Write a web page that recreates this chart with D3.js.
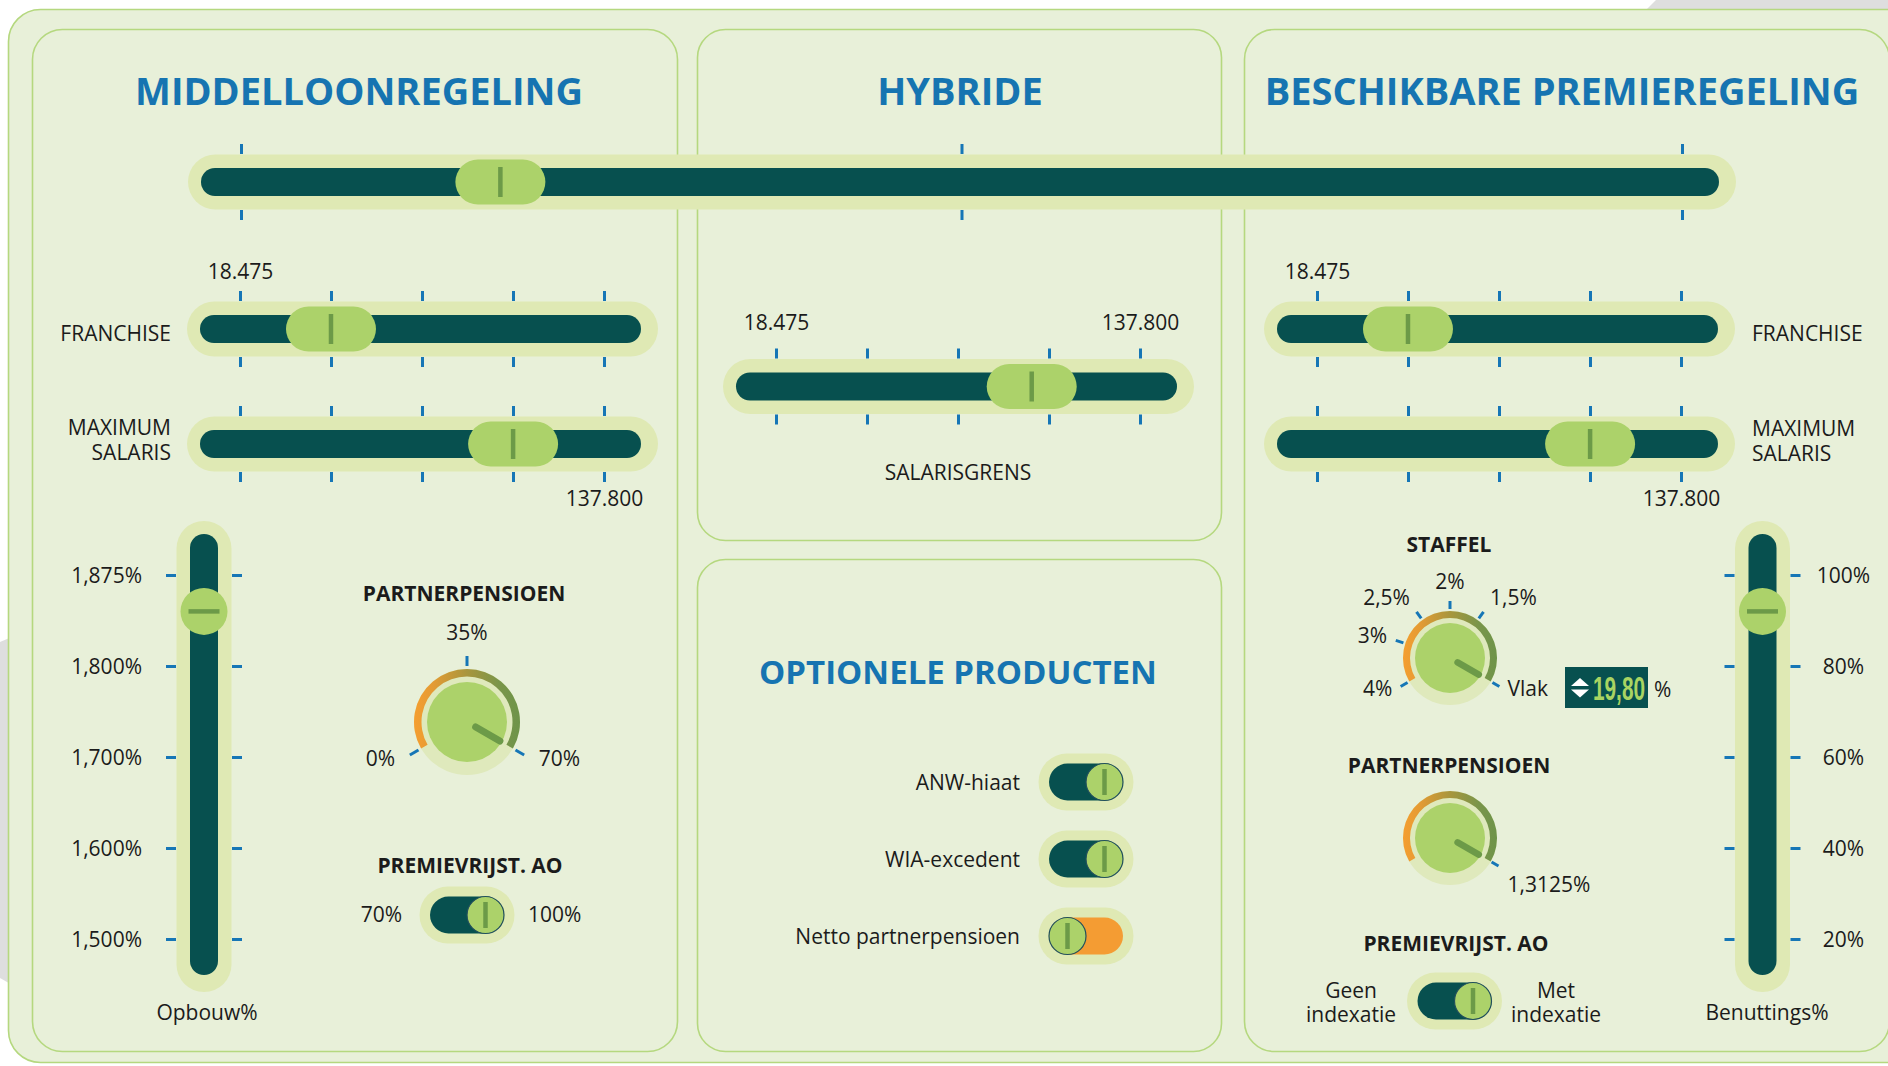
<!DOCTYPE html>
<html><head><meta charset="utf-8">
<script src="https://cdn.jsdelivr.net/npm/d3@7"></script>
<style>html,body{margin:0;padding:0;background:#fff;overflow:hidden}svg{display:block}text{font-family:"Open Sans",sans-serif}</style>
</head><body><svg id="chart"></svg>
<script>
// ---------- DATA ----------
const schemes = ["MIDDELLOONREGELING", "HYBRIDE", "BESCHIKBARE PREMIEREGELING"];
const schemeValue = 0.36;
const salaryTicks = [18475, 48306, 78138, 107969, 137800];
const salaryTickLabels = ["18.475", "", "", "", "137.800"];
const franchiseML = 48300, maxSalarisML = 108000;
const salarisgrensHybride = 102300;
const franchiseBP = 48300, maxSalarisBP = 108000;
const opbouwTicks = [1.875, 1.8, 1.7, 1.6, 1.5];
const opbouwLabels = ["1,875%", "1,800%", "1,700%", "1,600%", "1,500%"];
const opbouwValue = 1.845;
const benuttingTicks = [100, 80, 60, 40, 20];
const benuttingLabels = ["100%", "80%", "60%", "40%", "20%"];
const benuttingValue = 92;
const partnerMLTicks = [0, 35, 70];
const partnerMLLabels = ["0%", "35%", "70%"];
const partnerMLValue = 70;
const staffelCats = ["4%", "3%", "2,5%", "2%", "1,5%", "Vlak"];
const staffelValue = "Vlak";
const staffelPct = "19,80";
const partnerBPTicks = [1.3125];
const partnerBPLabels = ["1,3125%"];
const partnerBPValue = 1.3125;
const premieMLOptions = ["70%", "100%"];
const premieMLValue = "100%";
const optionalProducts = ["ANW-hiaat", "WIA-excedent", "Netto partnerpensioen"];
const optionalOn = [true, true, false];
const premieBPOptions = [["Geen", "indexatie"], ["Met", "indexatie"]];
const premieBPOn = true;

// ---------- STYLE ----------
const C = {teal:"#07504f", halo:"#dfe9b4", halo2:"#dfe9bc", knob:"#acd26a", mark:"#6c9a48",
  tick:"#1676b6", title:"#1674b1", text:"#1b1b1b", panel:"#e8f0d9", stroke:"#b5d87f", orange:"#f49c33", knobStroke:"#22505c"};
const W = 1888, H = 1066;
const svg = d3.select("#chart").attr("width", W).attr("height", H);
const defs = svg.append("defs");
const grad = defs.append("linearGradient").attr("id","arcGrad").attr("x1",0).attr("x2",1).attr("y1",0).attr("y2",0);
[[0,"#f59e30"],[0.18,"#e49b34"],[0.5,"#a8963d"],[0.8,"#7a954a"],[1,"#6e9449"]]
  .forEach(([o,c]) => grad.append("stop").attr("offset",o).attr("stop-color",c));

// ---------- BACKGROUND ----------
svg.append("rect").attr("width",W).attr("height",H).attr("fill","#fff");
svg.append("path").attr("d","M1646,10 L1656,0 L1888,0 L1888,10 Z").attr("fill","#dedede");
svg.append("path").attr("d","M0,642 L14,636 L14,986 L0,978 Z").attr("fill","#dedede");
const panels = [[8.5,9.5,1940,1053,32],[32.5,29.5,645,1022,30],[697.5,29.5,524,511,28],[697.5,559.5,524,492,28],[1244.5,29.5,645,1022,30]];
svg.selectAll(".panel").data(panels).join("rect").attr("class","panel")
  .attr("x",d=>d[0]).attr("y",d=>d[1]).attr("width",d=>d[2]).attr("height",d=>d[3]).attr("rx",d=>d[4])
  .attr("fill",C.panel).attr("stroke",C.stroke).attr("stroke-width",1.6);

function txt(g, x, y, s, o = {}) {
  return g.append("text").attr("x",x).attr("y",y).attr("text-anchor",o.anchor||"start")
    .attr("font-size",o.size||21).attr("font-weight",o.weight||400).attr("fill",o.fill||C.text).text(s);
}

// titles
const titleX = [359, 960, 1562];
svg.selectAll(".title").data(schemes).join("text").attr("class","title")
  .attr("x",(d,i)=>titleX[i]).attr("y",105).attr("text-anchor","middle")
  .attr("font-size",38).attr("font-weight",700).attr("fill",C.title).text(d=>d);
txt(svg, 958, 684, "OPTIONELE PRODUCTEN", {anchor:"middle", size:33, weight:700, fill:C.title});

function styleAxis(a) {
  a.attr("font-family",null).attr("font-size",null);
  a.select(".domain").remove();
  a.selectAll(".tick line").attr("stroke",C.tick).attr("stroke-width",3);
  a.selectAll(".tick text").attr("font-size",21).attr("fill",C.text).attr("font-family","Open Sans");
}

// ---------- HORIZONTAL SLIDER ----------
function hSlider(g, o) {
  const [r0, r1] = o.scale.range(), x0 = r0 - 40, x1 = r1 + 37, cy = o.cy;
  g.append("rect").attr("x",x0-13).attr("y",cy-27.5).attr("width",x1-x0+30).attr("height",55).attr("rx",27.5).attr("fill",C.halo);
  g.append("rect").attr("x",x0).attr("y",cy-14).attr("width",x1-x0).attr("height",28).attr("rx",14).attr("fill",C.teal);
  const top = g.append("g").attr("transform",`translate(0,${cy-28})`)
    .call(d3.axisTop(o.scale).tickValues(o.ticks).tickSize(10).tickPadding(o.topPad||0).tickFormat(o.topFmt||(()=>"")));
  const bot = g.append("g").attr("transform",`translate(0,${cy+28})`)
    .call(d3.axisBottom(o.scale).tickValues(o.ticks).tickSize(10).tickPadding(o.botPad||0).tickFormat(o.botFmt||(()=>"")));
  styleAxis(top); styleAxis(bot);
  const kx = o.scale(o.value);
  g.append("rect").attr("x",kx-45).attr("y",cy-22.5).attr("width",90).attr("height",45).attr("rx",22.5).attr("fill",C.knob);
  g.append("line").attr("x1",kx).attr("x2",kx).attr("y1",cy-15).attr("y2",cy+15).attr("stroke",C.mark).attr("stroke-width",4.5);
}

const schemeScale = d3.scaleLinear().domain([0, schemes.length-1]).range([241, 1682]);
hSlider(svg, {scale:schemeScale, ticks:d3.range(schemes.length), cy:182, value:schemeValue});

const firstLbl = (d,i) => i===0 ? salaryTickLabels[0] : "";
const lastLbl = (d,i) => i===salaryTicks.length-1 ? salaryTickLabels[salaryTicks.length-1] : "";
const bothLbl = (d,i) => salaryTickLabels[i];

const salML = d3.scaleLinear().domain(d3.extent(salaryTicks)).range([240, 604]);
hSlider(svg, {scale:salML, ticks:salaryTicks, cy:329, value:franchiseML, topFmt:firstLbl, topPad:12});
hSlider(svg, {scale:salML, ticks:salaryTicks, cy:444, value:maxSalarisML, botFmt:lastLbl, botPad:9});
txt(svg, 171, 341, "FRANCHISE", {anchor:"end"});
txt(svg, 171, 435, "MAXIMUM", {anchor:"end"});
txt(svg, 171, 460, "SALARIS", {anchor:"end"});

const salHY = d3.scaleLinear().domain(d3.extent(salaryTicks)).range([776, 1140]);
hSlider(svg, {scale:salHY, ticks:salaryTicks, cy:386.5, value:salarisgrensHybride, topFmt:bothLbl, topPad:19});
txt(svg, 958, 480, "SALARISGRENS", {anchor:"middle"});

const salBP = d3.scaleLinear().domain(d3.extent(salaryTicks)).range([1317, 1681]);
hSlider(svg, {scale:salBP, ticks:salaryTicks, cy:329, value:franchiseBP, topFmt:firstLbl, topPad:12});
hSlider(svg, {scale:salBP, ticks:salaryTicks, cy:444, value:maxSalarisBP, botFmt:lastLbl, botPad:9});
txt(svg, 1752, 341, "FRANCHISE");
txt(svg, 1752, 436, "MAXIMUM");
txt(svg, 1752, 461, "SALARIS");

// ---------- VERTICAL SLIDER ----------
function vSlider(g, o) {
  const [r0, r1] = d3.extent(o.scale.range()), y0 = r0 - 41, y1 = r1 + 36, cx = o.cx;
  g.append("rect").attr("x",cx-27.5).attr("y",y0-13).attr("width",55).attr("height",y1-y0+30).attr("rx",27.5).attr("fill",C.halo);
  g.append("rect").attr("x",cx-14).attr("y",y0).attr("width",28).attr("height",y1-y0).attr("rx",14).attr("fill",C.teal);
  const left = g.append("g").attr("transform",`translate(${cx-28},0)`)
    .call(d3.axisLeft(o.scale).tickValues(o.ticks).tickSize(10).tickPadding(24).tickFormat(o.leftFmt||(()=>"")));
  const right = g.append("g").attr("transform",`translate(${cx+28},0)`)
    .call(d3.axisRight(o.scale).tickValues(o.ticks).tickSize(10).tickPadding(24).tickFormat(o.rightFmt||(()=>"")));
  styleAxis(left); styleAxis(right);
  left.selectAll(".tick text").attr("dy","0.38em");
  right.selectAll(".tick text").attr("dy","0.38em").attr("text-anchor","middle").attr("x",o.rightLabelX||34);
  const ky = o.scale(o.value);
  g.append("circle").attr("cx",cx).attr("cy",ky).attr("r",23.5).attr("fill",C.knob);
  g.append("line").attr("x1",cx-15.5).attr("x2",cx+15.5).attr("y1",ky).attr("y2",ky).attr("stroke",C.mark).attr("stroke-width",4.5);
}
const opbouwScale = d3.scaleLinear().domain(opbouwTicks).range(opbouwTicks.map((d,i)=>575 + i*91));
vSlider(svg, {scale:opbouwScale, ticks:opbouwTicks, cx:204, value:opbouwValue, leftFmt:(d,i)=>opbouwLabels[i]});
txt(svg, 207, 1020, "Opbouw%", {anchor:"middle"});

const benutScale = d3.scaleLinear().domain([d3.min(benuttingTicks), d3.max(benuttingTicks)]).range([939, 575]);
vSlider(svg, {scale:benutScale, ticks:benuttingTicks, cx:1762.5, value:benuttingValue, rightFmt:(d,i)=>benuttingLabels[i], rightLabelX:53});
txt(svg, 1767, 1020, "Benuttings%", {anchor:"middle"});

// ---------- DIALS ----------
const rad = a => a * Math.PI / 180;
function dial(g, o) {
  const gg = g.append("g").attr("transform",`translate(${o.cx},${o.cy})`);
  gg.append("circle").attr("r",o.rArcOut).attr("fill",C.halo2);
  gg.append("path").attr("d", d3.arc()({innerRadius:o.rArcIn, outerRadius:o.rArcOut, startAngle:rad(-120), endAngle:rad(120)}))
    .attr("fill","url(#arcGrad)");
  gg.append("circle").attr("r",o.rIn).attr("fill",C.knob);
  o.ticks.forEach((t, i) => {
    const a = rad(o.angle(t)), s = Math.sin(a), c = Math.cos(a);
    gg.append("line").attr("x1",o.tickR0*s).attr("y1",-o.tickR0*c).attr("x2",o.tickR1*s).attr("y2",-o.tickR1*c)
      .attr("stroke",C.tick).attr("stroke-width",3);
    const px = o.labelR*s, py = -o.labelR*c;
    let anchor = "middle", dx = 0, dy = -6;
    if (Math.abs(s) >= 0.2) { anchor = s < 0 ? "end" : "start"; dx = (s < 0 ? -1 : 1) * o.gapX; dy = 6 - 12*Math.pow(Math.max(0,c),2); }
    txt(gg, px+dx, py+dy+(o.labelDy||0), o.labels[i], {anchor});
  });
  const a = rad(o.angle(o.value)), s = Math.sin(a), c = Math.cos(a);
  gg.append("line").attr("x1",o.rIn*0.25*s).attr("y1",-o.rIn*0.25*c).attr("x2",o.rIn*0.95*s).attr("y2",-o.rIn*0.95*c)
    .attr("stroke",C.mark).attr("stroke-width",o.pw||7).attr("stroke-linecap","round");
}

txt(svg, 464, 601, "PARTNERPENSIOEN", {anchor:"middle", weight:700});
dial(svg, {cx:467, cy:722, rIn:40, rArcIn:45.5, rArcOut:53, tickR0:56, tickR1:66,
  angle:d3.scaleLinear().domain(d3.extent(partnerMLTicks)).range([-120,120]),
  ticks:partnerMLTicks, labels:partnerMLLabels, value:partnerMLValue, labelR:76, gapX:6, pw:7});

txt(svg, 1449, 552, "STAFFEL", {anchor:"middle", weight:700});
dial(svg, {cx:1450, cy:658, rIn:35, rArcIn:40, rArcOut:47, tickR0:49, tickR1:57,
  angle:d3.scaleOrdinal().domain(staffelCats).range([-120,-72,-36,0,36,120]),
  ticks:staffelCats, labels:staffelCats, value:staffelValue, labelR:63, gapX:3, pw:6.5});

// staffel badge
const bx = 1565, by = 667;
svg.append("rect").attr("x",bx).attr("y",by).attr("width",83).attr("height",41).attr("fill",C.teal);
svg.append("path").attr("d",`M${bx+6},${by+19} L${bx+15},${by+11} L${bx+24},${by+19} Z M${bx+6},${by+22.5} L${bx+24},${by+22.5} L${bx+15},${by+30.5} Z`).attr("fill","#fff");
const badge = svg.append("text").attr("x",bx+28).attr("y",by+33);
badge.append("tspan").attr("font-family","'Liberation Sans Narrow','Liberation Sans',Arial,sans-serif")
  .attr("font-weight",700).attr("font-size",33).attr("fill","#a9d462").attr("textLength",52).attr("lengthAdjust","spacingAndGlyphs").text(staffelPct);
badge.append("tspan").attr("x",1654).attr("y",697).attr("font-size",21).attr("fill",C.text).text("%");

txt(svg, 1449, 773, "PARTNERPENSIOEN", {anchor:"middle", weight:700});
dial(svg, {cx:1450, cy:838, rIn:35, rArcIn:40, rArcOut:47, tickR0:48, tickR1:56,
  angle:d3.scaleLinear().domain([0, d3.max(partnerBPTicks)]).range([-120,120]),
  ticks:partnerBPTicks, labels:partnerBPLabels, value:partnerBPValue, labelR:63, gapX:3, labelDy:16, pw:6.5});

// ---------- TOGGLES ----------
function toggle(g, o) {
  const cx = o.cx, cy = o.cy;
  g.append("rect").attr("x",cx-47.5).attr("y",cy-28.5).attr("width",95).attr("height",57).attr("rx",28.5).attr("fill",C.halo);
  g.append("rect").attr("x",cx-37).attr("y",cy-18.5).attr("width",74).attr("height",37).attr("rx",18.5).attr("fill",o.on ? C.teal : C.orange);
  const kx = o.on ? cx + 18.5 : cx - 18.5;
  g.append("circle").attr("cx",kx).attr("cy",cy).attr("r",18.5).attr("fill",C.knob).attr("stroke",C.knobStroke).attr("stroke-width",1.2);
  g.append("line").attr("x1",kx).attr("x2",kx).attr("y1",cy-13).attr("y2",cy+13).attr("stroke",C.mark).attr("stroke-width",4.5);
}

txt(svg, 470, 873, "PREMIEVRIJST. AO", {anchor:"middle", weight:700});
toggle(svg, {cx:467, cy:915, on: premieMLValue === premieMLOptions[1]});
txt(svg, 402, 922, premieMLOptions[0], {anchor:"end"});
txt(svg, 528, 922, premieMLOptions[1]);

const rowY = d3.scalePoint().domain(optionalProducts).range([782, 936]);
optionalProducts.forEach((p, i) => {
  toggle(svg, {cx:1086, cy:rowY(p), on:optionalOn[i]});
  txt(svg, 1020, rowY(p)+8, p, {anchor:"end"});
});

txt(svg, 1456, 951, "PREMIEVRIJST. AO", {anchor:"middle", weight:700});
toggle(svg, {cx:1454.5, cy:1001, on:premieBPOn});
premieBPOptions.forEach((lines, i) => {
  const x = i === 0 ? 1351 : 1556;
  const t = svg.append("text").attr("text-anchor","middle").attr("font-size",21).attr("fill",C.text);
  lines.forEach((l, j) => t.append("tspan").attr("x",x).attr("y",998 + j*24).text(l));
});
</script></body></html>
